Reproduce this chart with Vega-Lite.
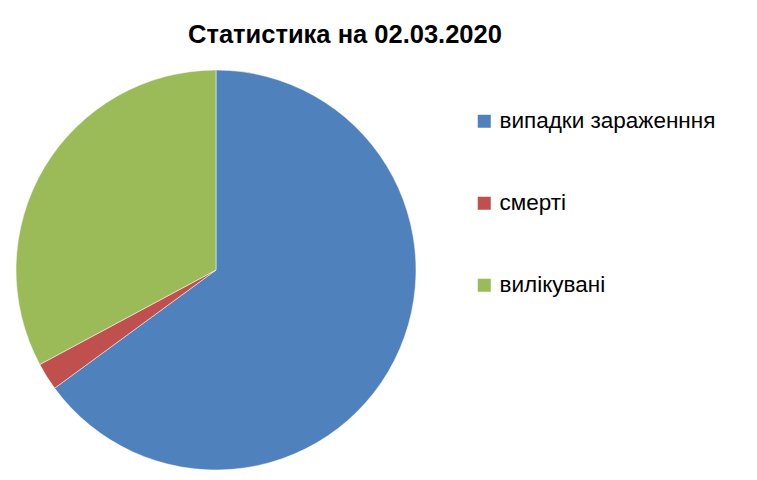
{
  "$schema": "https://vega.github.io/schema/vega-lite/v6.json",
  "width": 400,
  "height": 400,
  "autosize": {"type": "none"},
  "padding": {"left": 16, "top": 70, "right": 341, "bottom": 10},
  "background": "white",
  "title": {
    "text": "Статистика на 02.03.2020",
    "anchor": "start",
    "frame": "group",
    "dx": 172,
    "offset": 21,
    "font": "Liberation Sans",
    "fontSize": 25.5,
    "fontWeight": "bold",
    "color": "#000000"
  },
  "data": {
    "values": [
      {"category": "випадки зараженння", "value": 89000, "ord": 1},
      {"category": "смерті", "value": 3050, "ord": 2},
      {"category": "вилікувані", "value": 45000, "ord": 3}
    ]
  },
  "mark": {"type": "arc", "radius": 200, "stroke": "#ffffff", "strokeWidth": 0.5},
  "encoding": {
    "theta": {"field": "value", "type": "quantitative", "stack": true},
    "order": {"field": "ord", "type": "quantitative", "sort": "ascending"},
    "color": {
      "field": "category",
      "type": "nominal",
      "sort": ["випадки зараженння", "смерті", "вилікувані"],
      "scale": {
        "domain": ["випадки зараженння", "смерті", "вилікувані"],
        "range": ["#4F81BD", "#C0504D", "#9BBB59"]
      },
      "legend": {
        "title": null,
        "orient": "none",
        "legendX": 457,
        "legendY": 40,
        "padding": 0,
        "symbolType": "square",
        "symbolSize": 169,
        "symbolStrokeWidth": 0,
        "labelFont": "Liberation Sans",
        "labelFontSize": 22.5,
        "labelColor": "#000000",
        "labelOffset": 4,
        "labelLimit": 400,
        "rowPadding": 59
      }
    }
  },
  "config": {"view": {"stroke": null}}
}
